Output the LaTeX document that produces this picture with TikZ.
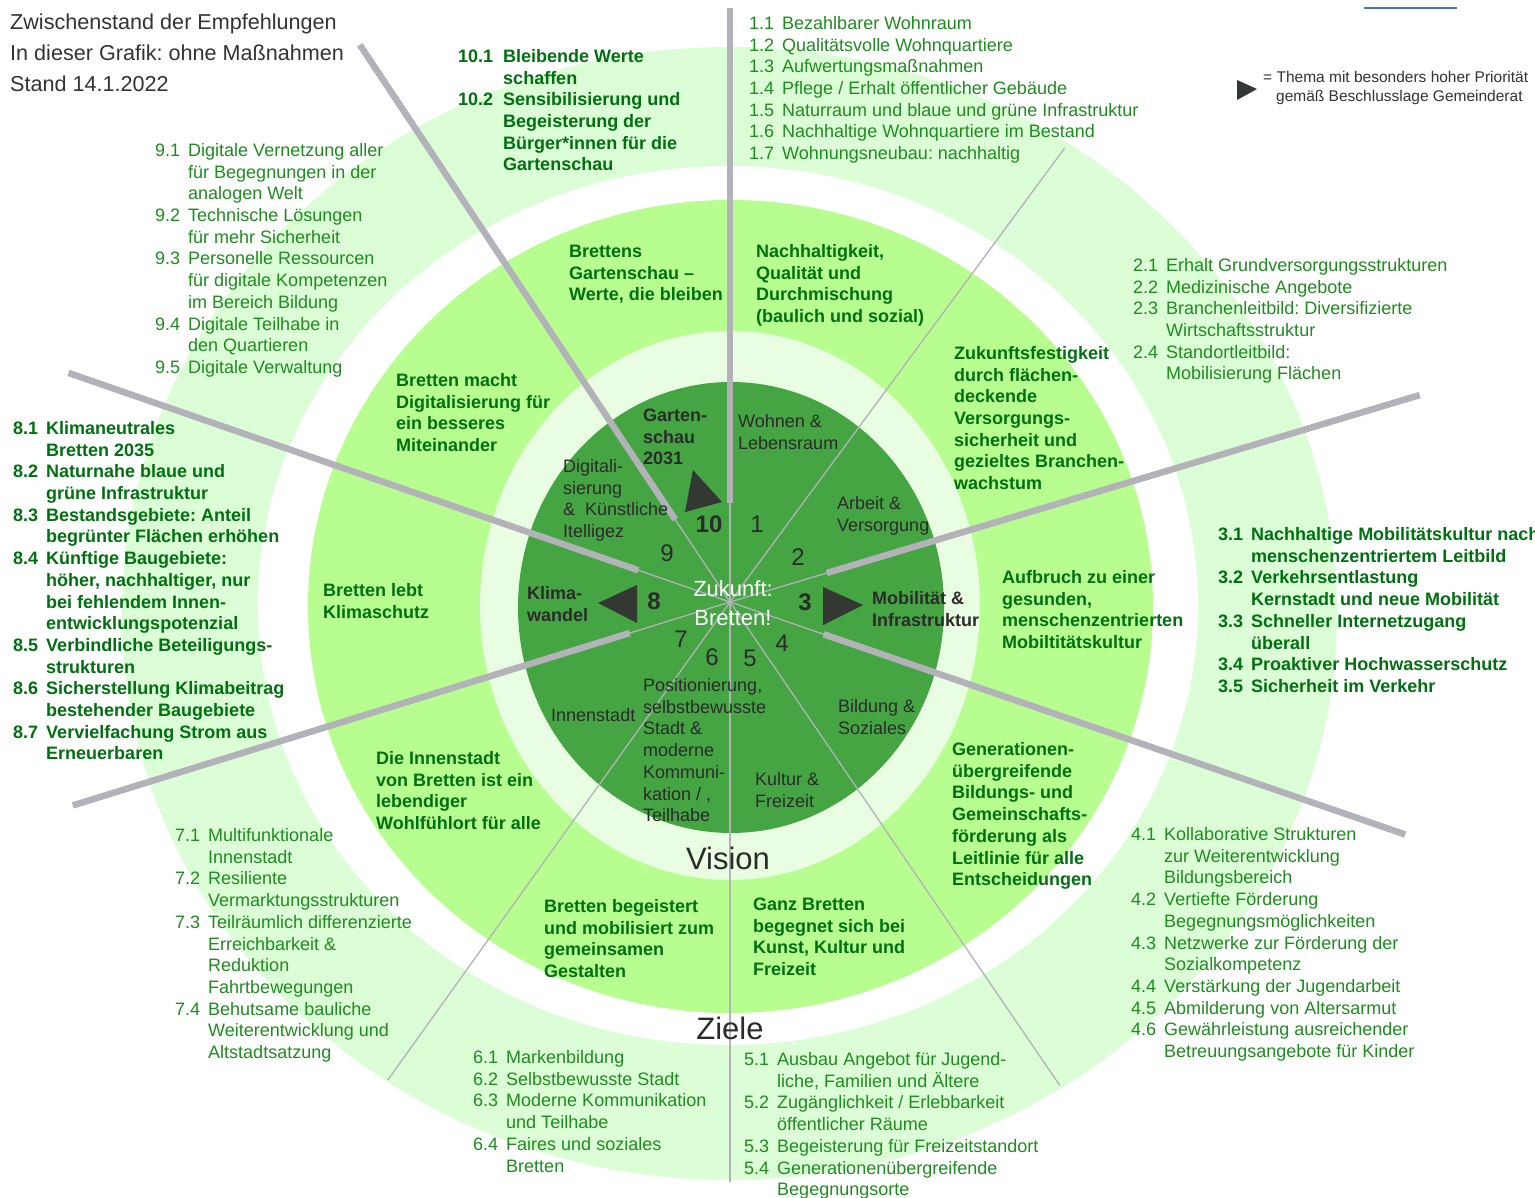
\documentclass[tikz,border=0pt]{standalone}
\usepackage{fontspec}
\setmainfont{Liberation Sans}
\usetikzlibrary{calc}
\frenchspacing

\definecolor{outerring}{RGB}{219,254,214}
\definecolor{midring}{RGB}{183,253,143}
\definecolor{innerring}{RGB}{233,253,226}
\definecolor{core}{RGB}{69,165,67}
\definecolor{listgreen}{RGB}{30,140,30}
\definecolor{boldgreen}{RGB}{0,112,16}
\definecolor{spokegray}{RGB}{178,178,184}
\definecolor{labelgray}{RGB}{43,43,43}
\definecolor{headgray}{RGB}{51,51,51}
\definecolor{markergray}{RGB}{51,56,51}
\definecolor{bluebar}{RGB}{68,114,196}

\newcommand{\goals}[2][8pt]{\begin{tabular}[t]{@{}l@{\hspace{#1}}l@{}}#2\end{tabular}}
\newcommand{\mlines}[1]{\begin{tabular}[t]{@{}l@{}}#1\end{tabular}}

\tikzset{
    headtext/.style={anchor=base west, inner sep=0pt, text=headgray, font=\fontsize{21.6}{31}\selectfont},
    keytext/.style={anchor=base west, inner sep=0pt, text=headgray, font=\fontsize{15.5}{19}\selectfont},
    goal/.style={anchor=base west, inner sep=0pt, text=listgreen, font=\fontsize{18}{21.7}\selectfont},
    goalbold/.style={goal, text=boldgreen, font=\fontsize{18}{21.7}\selectfont\bfseries},
    aim/.style={anchor=base west, inner sep=0pt, text=boldgreen, font=\fontsize{18}{21.7}\selectfont\bfseries},
    topic/.style={anchor=base west, inner sep=0pt, text=labelgray, font=\fontsize{18}{21.7}\selectfont},
    topicbold/.style={topic, font=\fontsize{18}{21.7}\selectfont\bfseries},
    numlabel/.style={inner sep=0pt, text=labelgray, font=\fontsize{24}{24}\selectfont},
    numbold/.style={numlabel, font=\fontsize{24}{24}\selectfont\bfseries},
    ringname/.style={inner sep=0pt, text=labelgray, font=\fontsize{31}{31}\selectfont},
    thinspoke/.style={draw=spokegray, line width=1.3pt},
    thickspoke/.style={draw=spokegray, line width=6.5pt},
    marker/.style={fill=markergray}
}

\begin{document}
\begin{tikzpicture}[x=1pt,y=-1pt]
    % Page
    \fill[white] (0,0) rectangle (1535,1198);
    \useasboundingbox (0,0) rectangle (1535,1198);

    % Rings
    \fill[outerring] (729.5,613.5) ellipse [x radius=607.5, y radius=566.5];
    \fill[white] (728,605.5) ellipse [x radius=470, y radius=439.5];
    \fill[midring] (730.5,606.5) ellipse [x radius=422.5, y radius=406.5];
    \fill[innerring] (730,605.5) ellipse [x radius=250, y radius=274.5];
    \fill[core] (731,607.5) ellipse [x radius=213, y radius=225.5];

    % Spokes
    \coordinate (C) at (730,602);
    \foreach \ang/\len in {-90/594, 90/580, -123.6/669, 55.7/585, -160.9/700,
                           19.0/714, 162.8/688, -16.7/720, -53.6/564, 125.6/588}
        \draw[thinspoke] (C) -- ++(\ang:\len);
    \foreach \ang/\rin/\rout in {-90/99/594, -123.6/99/669, -160.9/97/700,
                                 19.0/99/714, 162.8/105/688, -16.7/101/720}
        \draw[thickspoke] ($(C)+(\ang:\rin)$) -- ($(C)+(\ang:\rout)$);

    % Header and key
    \node[headtext] (hdr) at (10,30) {\mlines{Zwischenstand der Empfehlungen\\In dieser Grafik: ohne Maßnahmen\\Stand 14.1.2022}};
    \draw[bluebar, line width=1.5pt] (1364,8) -- (1457,8);
    \fill[marker] (1237,80) -- (1237,100) -- (1257,89) -- cycle;
    \node[keytext] (key) at (1263,83) {\mlines{= Thema mit besonders hoher Priorität\\\hspace{13pt}gemäß Beschlusslage Gemeinderat}};

    % Ziele (outer ring)
    \node[goal] (g1) at (749,29.5) {\goals{1.1 & Bezahlbarer Wohnraum\\ 1.2 & Qualitätsvolle Wohnquartiere\\ 1.3 & Aufwertungsmaßnahmen\\ 1.4 & Pflege / Erhalt öffentlicher Gebäude\\ 1.5 & Naturraum und blaue und grüne Infrastruktur\\ 1.6 & Nachhaltige Wohnquartiere im Bestand\\ 1.7 & Wohnungsneubau: nachhaltig}};
    \node[goal] (g2) at (1133,271.5) {\goals{2.1 & Erhalt Grundversorgungsstrukturen\\ 2.2 & Medizinische Angebote\\ 2.3 & Branchenleitbild: Diversifizierte\\ & Wirtschaftsstruktur\\ 2.4 & Standortleitbild:\\ & Mobilisierung Flächen}};
    \node[goalbold] (g3) at (1218,540.5) {\goals{3.1 & Nachhaltige Mobilitätskultur nach\\ & menschenzentriertem Leitbild\\ 3.2 & Verkehrsentlastung\\ & Kernstadt und neue Mobilität\\ 3.3 & Schneller Internetzugang\\ & überall\\ 3.4 & Proaktiver Hochwasserschutz\\ 3.5 & Sicherheit im Verkehr}};
    \node[goal] (g4) at (1131,840.5) {\goals{4.1 & Kollaborative Strukturen\\ & zur Weiterentwicklung\\ & Bildungsbereich\\ 4.2 & Vertiefte Förderung\\ & Begegnungsmöglichkeiten\\ 4.3 & Netzwerke zur Förderung der\\ & Sozialkompetenz\\ 4.4 & Verstärkung der Jugendarbeit\\ 4.5 & Abmilderung von Altersarmut\\ 4.6 & Gewährleistung ausreichender\\ & Betreuungsangebote für Kinder}};
    \node[goal] (g5) at (744,1065.5) {\goals{5.1 & Ausbau Angebot für Jugend-\\ & liche, Familien und Ältere\\ 5.2 & Zugänglichkeit / Erlebbarkeit\\ & öffentlicher Räume\\ 5.3 & Begeisterung für Freizeitstandort\\ 5.4 & Generationenübergreifende\\ & Begegnungsorte}};
    \node[goal] (g6) at (473,1063.5) {\goals{6.1 & Markenbildung\\ 6.2 & Selbstbewusste Stadt\\ 6.3 & Moderne Kommunikation\\ & und Teilhabe\\ 6.4 & Faires und soziales\\ & Bretten}};
    \node[goal] (g7) at (175,841.5) {\goals{7.1 & Multifunktionale\\ & Innenstadt\\ 7.2 & Resiliente\\ & Vermarktungsstrukturen\\ 7.3 & Teilräumlich differenzierte\\ & Erreichbarkeit \&\\ & Reduktion\\ & Fahrtbewegungen\\ 7.4 & Behutsame bauliche\\ & Weiterentwicklung und\\ & Altstadtsatzung}};
    \node[goalbold] (g8) at (13,434.5) {\goals{8.1 & Klimaneutrales\\ & Bretten 2035\\ 8.2 & Naturnahe blaue und\\ & grüne Infrastruktur\\ 8.3 & Bestandsgebiete: Anteil\\ & begrünter Flächen erhöhen\\ 8.4 & Künftige Baugebiete:\\ & höher, nachhaltiger, nur\\ & bei fehlendem Innen-\\ & entwicklungspotenzial\\ 8.5 & Verbindliche Beteiligungs-\\ & strukturen\\ 8.6 & Sicherstellung Klimabeitrag\\ & bestehender Baugebiete\\ 8.7 & Vervielfachung Strom aus\\ & Erneuerbaren}};
    \node[goal] (g9) at (155,156.5) {\goals{9.1 & Digitale Vernetzung aller\\ & für Begegnungen in der\\ & analogen Welt\\ 9.2 & Technische Lösungen\\ & für mehr Sicherheit\\ 9.3 & Personelle Ressourcen\\ & für digitale Kompetenzen\\ & im Bereich Bildung\\ 9.4 & Digitale Teilhabe in\\ & den Quartieren\\ 9.5 & Digitale Verwaltung}};
    \node[goalbold] (g10) at (458,62.5) {\goals[10pt]{10.1 & Bleibende Werte\\ & schaffen\\ 10.2 & Sensibilisierung und\\ & Begeisterung der\\ & Bürger*innen für die\\ & Gartenschau}};
    \node[ringname] (ziele) at (730,1028) {Ziele};

    % Vision (middle ring)
    \node[aim] (a1) at (756,257.5) {\mlines{Nachhaltigkeit,\\Qualität und\\Durchmischung\\(baulich und sozial)}};
    \node[aim] (a2) at (954,359.5) {\mlines{Zukunftsfestigkeit\\durch flächen-\\deckende\\Versorgungs-\\sicherheit und\\gezieltes Branchen-\\wachstum}};
    \node[aim] (a3) at (1002,583.5) {\mlines{Aufbruch zu einer\\gesunden,\\menschenzentrierten\\Mobiltitätskultur}};
    \node[aim] (a4) at (952,755.5) {\mlines{Generationen-\\übergreifende\\Bildungs- und\\Gemeinschafts-\\förderung als\\Leitlinie für alle\\Entscheidungen}};
    \node[aim] (a5) at (753,910.5) {\mlines{Ganz Bretten\\begegnet sich bei\\Kunst, Kultur und\\Freizeit}};
    \node[aim] (a6) at (544,912.5) {\mlines{Bretten begeistert\\und mobilisiert zum\\gemeinsamen\\Gestalten}};
    \node[aim] (a7) at (376,764.5) {\mlines{Die Innenstadt\\von Bretten ist ein\\lebendiger\\Wohlfühlort für alle}};
    \node[aim] (a8) at (323,596.5) {\mlines{Bretten lebt\\Klimaschutz}};
    \node[aim] (a9) at (396,386.5) {\mlines{Bretten macht\\Digitalisierung für\\ein besseres\\Miteinander}};
    \node[aim] (a10) at (569,257.5) {\mlines{Brettens\\Gartenschau –\\Werte, die bleiben}};
    \node[ringname] (vision) at (728,858) {Vision};

    % Themen (core)
    \node[topic] (t1) at (738,427.5) {\mlines{Wohnen \&\\Lebensraum}};
    \node[topic] (t2) at (837,509.5) {\mlines{Arbeit \&\\Versorgung}};
    \node[topicbold] (t3) at (872,604.5) {\mlines{Mobilität \&\\Infrastruktur}};
    \node[topic] (t4) at (838,712.5) {\mlines{Bildung \&\\Soziales}};
    \node[topic] (t5) at (755,785.5) {\mlines{Kultur \&\\Freizeit}};
    \node[topic] (t6) at (643,691.5) {\mlines{Positionierung,\\selbstbewusste\\Stadt \&\\moderne\\Kommuni-\\kation / ,\\Teilhabe}};
    \node[topic] (t7) at (551,721.5) {Innenstadt};
    \node[topicbold] (t8) at (527,599.5) {\mlines{Klima-\\wandel}};
    \node[topic] (t9) at (563,472.5) {\mlines{Digitali-\\sierung\\\&\ \ Künstliche\\Itelligez}};
    \node[topicbold] (t10) at (643,421.5) {\mlines{Garten-\\schau\\2031}};

    % Numbers
    \node[numlabel] (n1) at (757,524) {1};
    \node[numlabel] (n2) at (798,557) {2};
    \node[numbold] (n3) at (805,602) {3};
    \node[numlabel] (n4) at (782,643) {4};
    \node[numlabel] (n5) at (750,658) {5};
    \node[numlabel] (n6) at (712,657) {6};
    \node[numlabel] (n7) at (681,639) {7};
    \node[numbold] (n8) at (654,601) {8};
    \node[numlabel] (n9) at (667,553) {9};
    \node[numbold] (n10) at (709,524) {10};

    % Priority markers
    \fill[marker] (693,470) -- (685,512) -- (722,502) -- cycle;
    \fill[marker] (598,603) -- (637,585) -- (637,623) -- cycle;
    \fill[marker] (823,587) -- (823,625) -- (863,605) -- cycle;

    % Centre
    \node[anchor=base, inner sep=0pt, text=white, font=\fontsize{22}{29}\selectfont] (zb) at (733,596) {\begin{tabular}[t]{@{}c@{}}Zukunft:\\Bretten!\end{tabular}};

\end{tikzpicture}
\end{document}
